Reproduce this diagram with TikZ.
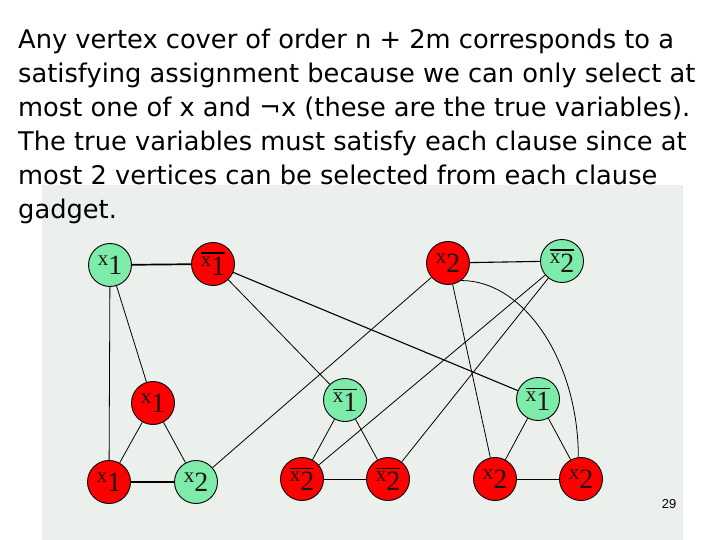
\documentclass[tikz,border=0pt]{standalone}
\usepackage{fontspec}
\setmainfont{DejaVu Sans}
\newfontfamily\lblfont{Liberation Serif}
\newfontfamily\numfont{Liberation Sans}
\definecolor{mint}{RGB}{125,235,170}
\definecolor{vred}{RGB}{255,0,0}
\definecolor{bgdot}{RGB}{236,240,236}
\definecolor{lbl}{RGB}{30,20,20}
\newcommand{\vlab}[1]{\lblfont\color{lbl}{\fontsize{21}{21}\selectfont x}\raisebox{-9bp}{\fontsize{28}{28}\selectfont #1}}
\newcommand{\vlabbar}[1]{\vbox{\hrule height 1.4bp\kern 3bp\hbox{\vlab{#1}}}}
\begin{document}
\begin{tikzpicture}[x=1bp,y=-1bp,
  vtx/.style={circle,draw=black,line width=0.9bp,minimum size=43bp,inner sep=0pt},
  gv/.style={vtx,fill=mint},
  rv/.style={vtx,fill=vred},
  edge/.style={line width=0.8bp},
  midedge/.style={line width=1.1bp},
  thickedge/.style={line width=1.7bp},
  txt/.style={anchor=base west,inner sep=0pt,font=\fontsize{25.8}{25.8}\selectfont}]
\useasboundingbox (0,0) rectangle (720,540);
\fill[white] (0,0) rectangle (720,540);
\fill[bgdot] (42,185) rectangle (683,540);
% vertices
\node[gv] (t1) at (110,265) {\vlab{1}};
\node[rv] (t2) at (213,264) {\vlabbar{1}};
\node[rv] (t3) at (448,263) {\vlab{2}};
\node[gv] (t4) at (562,261) {\vlabbar{2}};
\node[rv] (m1) at (153,403) {\vlab{1}};
\node[gv] (m2) at (345,400) {\vlabbar{1}};
\node[gv] (m3) at (538,399) {\vlabbar{1}};
\node[rv] (b1) at (109,482) {\vlab{1}};
\node[gv] (b2) at (196,482) {\vlab{2}};
\node[rv] (b3) at (302,479) {\vlabbar{2}};
\node[rv] (b4) at (388,479) {\vlabbar{2}};
\node[rv] (b5) at (495,479) {\vlab{2}};
\node[rv] (b6) at (581,479) {\vlab{2}};
% edges
\draw[thickedge] (t1) -- (t2);
\draw[thickedge] (b1) -- (b2);
\draw[midedge] (t3) -- (t4);
\draw[midedge] (t2) -- (m3);
\draw[edge] (t1) -- (b1);
\draw[edge] (t1) -- (m1);
\draw[edge] (t2) -- (m2);
\draw[edge] (t3) -- (b2);
\draw[edge] (t3) -- (b5);
\draw[edge] (t3.-53) .. controls +(63,0) and +(0,-96) .. (b6.97);
\draw[edge] (t4) -- (b3);
\draw[edge] (t4) -- (b4);
\draw[edge] (m1) -- (b1);
\draw[edge] (m1) -- (b2);
\draw[edge] (m2) -- (b3);
\draw[edge] (m2) -- (b4);
\draw[edge] (b3) -- (b4);
\draw[edge] (m3) -- (b5);
\draw[edge] (m3) -- (b6);
\draw[edge] (b5) -- (b6);
% text
\node[txt] (l1) at (18,49) {Any vertex cover of order n + 2m corresponds to a};
\node[txt] (l2) at (18,83) {satisfying assignment because we can only select at};
\node[txt] (l3) at (18,117) {most one of x and ¬x (these are the true variables).};
\node[txt] (l4) at (18,151) {The true variables must satisfy each clause since at};
\node[txt] (l5) at (18,185) {most 2 vertices can be selected from each clause};
\node[txt] (l6) at (18,219) {gadget.};
\node[font=\numfont\fontsize{13}{13}\selectfont,inner sep=0pt] (pg) at (669,504) {29};
\end{tikzpicture}
\end{document}
